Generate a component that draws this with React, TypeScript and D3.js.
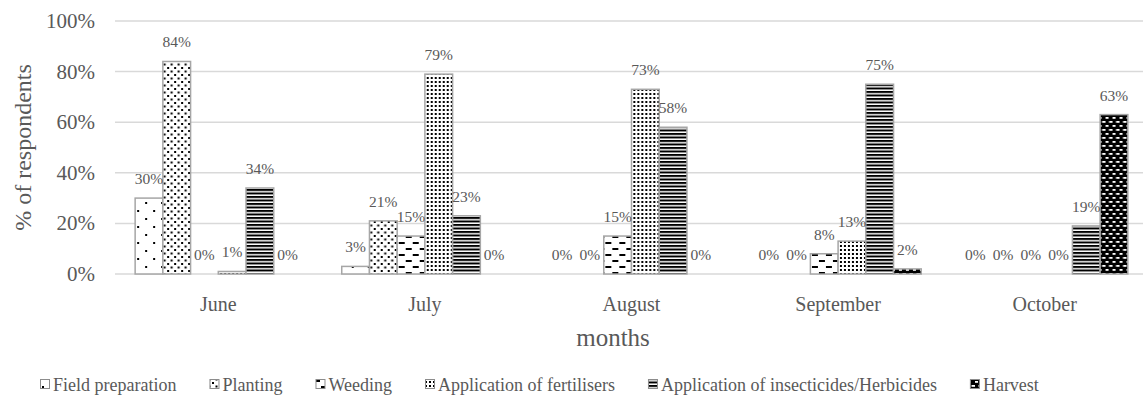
import React, { useEffect, useRef } from 'react'
import * as d3 from 'd3'

const months = ['June', 'July', 'August', 'September', 'October']
const activities = [
  'Field preparation',
  'Planting',
  'Weeding',
  'Application of fertilisers',
  'Application of insecticides/Herbicides',
  'Harvest',
]
// % of respondents, one array per month, in activity order
const june = [30, 84, 0, 1, 34, 0]
const july = [3, 21, 15, 79, 23, 0]
const august = [0, 0, 15, 73, 58, 0]
const september = [0, 0, 8, 13, 75, 2]
const october = [0, 0, 0, 0, 19, 63]
const yTicks = [0, 20, 40, 60, 80, 100]

const values = [june, july, august, september, october]
const patternIds = ['p-field', 'p-plant', 'p-weed', 'p-fert', 'p-insect', 'p-harvest']

const W = 1143
const H = 405
const FONT = 'Liberation Serif'
const TEXT = '#595959'

const App = () => {
  const svgRef = useRef<SVGSVGElement>(null)

  useEffect(() => {
    const svg = d3.select(svgRef.current)
    svg.selectAll('*').remove()

    const defs = svg.append('defs')
    const pat = (id: string, w: number, h: number, bg: string) => {
      const p = defs.append('pattern').attr('id', id).attr('patternUnits', 'userSpaceOnUse')
        .attr('width', w).attr('height', h)
      p.append('rect').attr('width', w).attr('height', h).attr('fill', bg)
      return p
    }
    // field preparation: sparse staggered dots
    let p = pat('p-field', 16, 16, '#fff')
    p.append('rect').attr('x', 2).attr('y', 2).attr('width', 2).attr('height', 2).attr('fill', '#000')
    p.append('rect').attr('x', 10).attr('y', 10).attr('width', 2).attr('height', 2).attr('fill', '#000')
    // planting: medium dots
    p = pat('p-plant', 7, 7, '#fff')
    p.append('rect').attr('x', 0.5).attr('y', 0.5).attr('width', 2).attr('height', 2).attr('fill', '#000')
    p.append('rect').attr('x', 4).attr('y', 4).attr('width', 2).attr('height', 2).attr('fill', '#000')
    // weeding: dashed horizontal
    p = pat('p-weed', 14, 12, '#fff')
    p.append('rect').attr('x', 1).attr('y', 2).attr('width', 6).attr('height', 2).attr('fill', '#000')
    p.append('rect').attr('x', 8).attr('y', 8).attr('width', 6).attr('height', 2).attr('fill', '#000')
    // fertilisers: dense dots
    p = pat('p-fert', 4, 4, '#fff')
    p.append('rect').attr('x', 1).attr('y', 1).attr('width', 2).attr('height', 2).attr('fill', '#000')
    // insecticides: horizontal lines
    p = pat('p-insect', 4, 3.5, '#fff')
    p.append('rect').attr('x', 0).attr('y', 0).attr('width', 4).attr('height', 2).attr('fill', '#000')
    // harvest: black with white dashes
    p = pat('p-harvest', 7, 8, '#000')
    p.append('rect').attr('x', 0.5).attr('y', 1).attr('width', 3.5).attr('height', 1.8).attr('fill', '#fff')
    p.append('rect').attr('x', 4).attr('y', 5).attr('width', 3.5).attr('height', 1.8).attr('fill', '#fff')

    const left = 115
    const right = 1148
    const top = 21
    const bottom = 274

    const x = d3.scaleBand<string>().domain(months).range([left, right]).paddingInner(0.195).paddingOuter(0.0975)
    const xs = d3.scaleBand<string>().domain(activities).range([0, x.bandwidth()])
    const y = d3.scaleLinear().domain([0, 100]).range([bottom, top])

    // gridlines
    svg.append('g').selectAll('line').data(yTicks).join('line')
      .attr('x1', left).attr('x2', right)
      .attr('y1', d => y(d)).attr('y2', d => y(d))
      .attr('stroke', '#d9d9d9').attr('stroke-width', 1.5)

    // y tick labels
    svg.append('g').selectAll('text').data(yTicks).join('text')
      .attr('x', 95).attr('y', d => y(d) + 7)
      .attr('text-anchor', 'end')
      .attr('font-family', FONT).attr('font-size', 21).attr('fill', TEXT)
      .text(d => `${d}%`)

    // bars
    const groups = svg.append('g').selectAll('g').data(months).join('g')
      .attr('transform', m => `translate(${x(m)},0)`)

    groups.selectAll('rect')
      .data((m, i) => values[i].map((v, j) => ({ v, a: activities[j], j })))
      .join('rect')
      .attr('x', d => xs(d.a)!)
      .attr('y', d => y(d.v))
      .attr('width', xs.bandwidth())
      .attr('height', d => bottom - y(d.v))
      .attr('fill', d => `url(#${patternIds[d.j]})`)
      .attr('stroke', '#a6a6a6').attr('stroke-width', 1.5)

    groups.selectAll('text')
      .data((m, i) => values[i].map((v, j) => ({ v, a: activities[j], j })))
      .join('text')
      .attr('x', d => xs(d.a)! + xs.bandwidth() / 2)
      .attr('y', d => y(d.v) - 14)
      .attr('text-anchor', 'middle')
      .attr('font-family', FONT).attr('font-size', 15.5).attr('fill', TEXT)
      .text(d => `${d.v}%`)

    // category labels
    svg.append('g').selectAll('text').data(months).join('text')
      .attr('x', m => x(m)! + x.bandwidth() / 2).attr('y', 311)
      .attr('text-anchor', 'middle')
      .attr('font-family', FONT).attr('font-size', 20).attr('fill', TEXT)
      .text(m => m)

    // axis titles
    svg.append('text').attr('x', 613).attr('y', 346)
      .attr('text-anchor', 'middle')
      .attr('font-family', FONT).attr('font-size', 25).attr('fill', TEXT)
      .text('months')
    svg.append('text')
      .attr('transform', `translate(31,${(top + bottom) / 2}) rotate(-90)`)
      .attr('text-anchor', 'middle')
      .attr('font-family', FONT).attr('font-size', 24).attr('fill', TEXT)
      .text('% of respondents')

    // legend
    const lg = svg.append('g')
    let cx = 0
    activities.forEach((a, i) => {
      lg.append('rect').attr('x', cx + 0.5).attr('y', 379.5).attr('width', 9).attr('height', 9)
        .attr('fill', `url(#${patternIds[i]})`).attr('stroke', '#8c8c8c').attr('stroke-width', 1)
      const t = lg.append('text').attr('x', cx + 13).attr('y', 391)
        .attr('font-family', FONT).attr('font-size', 18).attr('fill', TEXT)
        .text(a)
      const tw = (t.node() as SVGTextElement).getComputedTextLength()
      cx += 13 + tw + 33
    })
    lg.attr('transform', 'translate(40,0)')
  }, [])

  return (
    <svg ref={svgRef} width={W} height={H} style={{ display: 'block', position: 'absolute', left: 0, top: 0 }} />
  )
}

export default App
